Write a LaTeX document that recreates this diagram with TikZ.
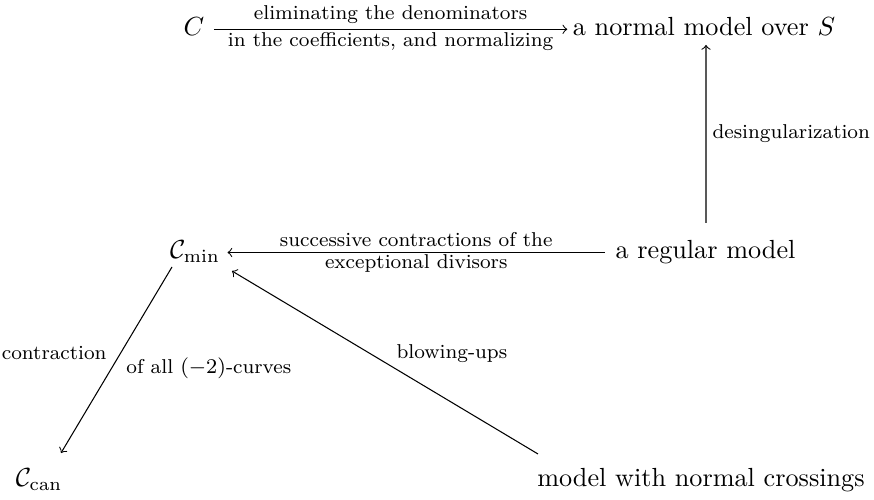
\documentclass[tikz,border=0pt]{standalone}
\usepackage{amsmath}
\begin{document}
\begin{tikzpicture}[x=0.3817pt, y=-0.3817pt,
  obj/.style={inner sep=2.7pt, anchor=base},
  lbl/.style={font=\fontsize{7.65pt}{9pt}\selectfont, inner sep=0pt},
  arr/.style={->, line width=0.4pt}]
\fill[white] (0,0) rectangle (874,493);
% objects
\node[obj] (C)    at (194,36)    {$C$};
\node[obj] (N)    at (704,36)    {a normal model over $S$};
\node[obj] (R)    at (705.5,259) {a regular model};
\node[obj] (Cmin) at (195,259)   {$\mathcal{C}_{\min}$};
\node[obj] (Ccan) at (39,487)    {$\mathcal{C}_{\mathrm{can}}$};
\node[obj] (M)    at (701,487)   {model with normal crossings};
% arrows
\draw[arr] ([shift={(2,-6.7)}]C.base east) -- ([shift={(2,-6.7)}]N.base west)
  node[midway, lbl, anchor=base, yshift=3.9pt] (l1) {eliminating the denominators}
  node[midway, lbl, anchor=base, yshift=-6.4pt] (l2) {in the coefficients, and normalizing};
\draw[arr] ([shift={(0.5,-36)}]R.base) -- ([shift={(2,9)}]N.base)
  node[midway, lbl, anchor=west, xshift=2.3pt] (l3) {desingularization};
\draw[arr] ([shift={(-3,-6.5)}]R.base west) -- ([shift={(0,-6.5)}]Cmin.base east)
  node[midway, lbl, anchor=base, yshift=2.1pt] (l4) {successive contractions of the}
  node[midway, lbl, anchor=base, yshift=-6.3pt] (l5) {exceptional divisors};
\draw[arr] ([shift={(-23,8)}]Cmin.base) -- ([shift={(22,-34)}]Ccan.base)
  node[midway, lbl, anchor=base east, xshift=-3.6pt] (l6) {contraction}
  node[midway, lbl, anchor=base west, xshift=3.6pt, yshift=-5pt] (l7) {of all $(-2)$-curves};
\draw[arr] ([shift={(-163,-33)}]M.base) -- ([shift={(37,12)}]Cmin.base)
  node[midway, lbl, anchor=base west, xshift=4.2pt, yshift=1.7pt] (l8) {blowing-ups};
\end{tikzpicture}
\end{document}
